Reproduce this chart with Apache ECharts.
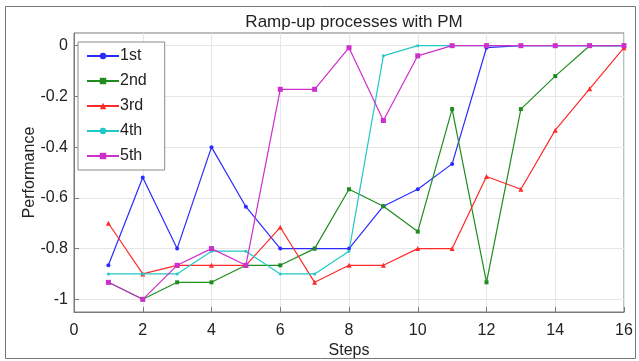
<!DOCTYPE html>
<html>
<head>
<meta charset="utf-8">
<script src="https://cdn.jsdelivr.net/npm/echarts@6/dist/echarts.min.js"></script>
<style>
  html, body { margin: 0; padding: 0; background: #fff; }
  #chart1 { width: 639px; height: 361px; }
</style>
</head>
<body>
<div id="chart1"></div>
<script>
var steps = [1, 2, 3, 4, 5, 6, 7, 8, 9, 10, 11, 12, 13, 14, 15, 16];

var first  = [-0.866, -0.52, -0.80, -0.40, -0.635, -0.80, -0.80, -0.80, -0.633, -0.566, -0.466, -0.008, 0, 0, 0, 0];
var second = [-0.933, -1.00, -0.933, -0.933, -0.866, -0.866, -0.80, -0.566, -0.633, -0.733, -0.25, -0.933, -0.25, -0.12, 0, 0];
var third  = [-0.70, -0.90, -0.866, -0.866, -0.866, -0.716, -0.933, -0.866, -0.866, -0.80, -0.80, -0.516, -0.566, -0.333, -0.17, -0.008];
var fourth = [-0.90, -0.90, -0.90, -0.81, -0.81, -0.90, -0.90, -0.81, -0.04, 0, 0, 0, 0, 0, 0, 0];
var fifth  = [-0.933, -1.00, -0.866, -0.80, -0.866, -0.172, -0.172, -0.008, -0.295, -0.04, 0, 0, 0, 0, 0, 0];

var names = ['1st', '2nd', '3rd', '4th', '5th'];
var colors = ['#2b2bff', '#1f8c1f', '#ff2a2a', '#22c8c8', '#cc2fcc'];
var symbols = ['circle', 'rect', 'triangle', 'circle', 'rect'];
var symbolSizes = [4, 4, 5, 3, 5];
var yTicks = [-1, -0.8, -0.6, -0.4, -0.2, 0];

var myChart = echarts.init(document.getElementById('chart1'));

function pairs(vals) {
    var out = [];
    for (var i = 0; i < steps.length; i++) {
        out.push([steps[i], vals[i]]);
    }
    return out;
}

var allData = [first, second, third, fourth, fifth];
var series = [];
for (var k = 0; k < allData.length; k++) {
    series.push({
        name: names[k],
        type: 'line',
        data: pairs(allData[k]),
        symbol: symbols[k],
        symbolSize: symbolSizes[k],
        showAllSymbol: true,
        clip: false,
        lineStyle: { color: colors[k], width: 1.2 },
        itemStyle: { color: colors[k] },
        emphasis: { disabled: true }
    });
}

var font = 'Liberation Sans, Arial, sans-serif';

var option = {
    animation: false,
    backgroundColor: '#fff',
    textStyle: { fontFamily: font },
    title: {
        text: 'Ramp-up processes with PM',
        left: 349,
        textAlign: 'center',
        top: 9,
        textStyle: { fontSize: 17, fontWeight: 'normal', color: '#222', fontFamily: font }
    },
    graphic: [{
        type: 'rect',
        shape: { x: 5.5, y: 6.5, width: 630, height: 352 },
        style: { fill: 'none', stroke: '#777', lineWidth: 1 },
        silent: true
    }],
    grid: {
        left: 74, right: 15, top: 33, bottom: 49,
        outerBoundsMode: 'none',
        show: true,
        borderColor: '#7a7a7a',
        borderWidth: 1,
        backgroundColor: '#fff'
    },
    legend: {
        orient: 'vertical',
        left: 78,
        top: 42,
        data: names,
        itemWidth: 32,
        itemHeight: 8,
        itemGap: 9,
        padding: [6, 18, 6, 8],
        backgroundColor: '#fff',
        borderColor: '#8a8a8a',
        borderWidth: 1,
        textStyle: { fontSize: 16, color: '#222', fontFamily: font, padding: [0, 0, 0, -4] }
    },
    xAxis: {
        type: 'value',
        min: 0,
        max: 16,
        interval: 2,
        name: 'Steps',
        nameLocation: 'middle',
        nameGap: 31,
        nameMoveOverlap: false,
        nameTextStyle: { fontSize: 16, color: '#222', fontFamily: font },
        axisLine: { show: true, onZero: false, lineStyle: { color: '#7a7a7a' } },
        axisTick: { show: true, inside: true, length: 5, lineStyle: { color: '#7a7a7a' } },
        axisLabel: { fontSize: 16, color: '#222', margin: 11, fontFamily: font },
        splitLine: { show: true, lineStyle: { color: '#e6e6e6' } }
    },
    yAxis: {
        type: 'value',
        min: -1.05,
        max: 0.05,
        name: 'Performance',
        nameLocation: 'middle',
        nameGap: 36,
        nameMoveOverlap: false,
        nameTextStyle: { fontSize: 16, color: '#222', fontFamily: font },
        axisLine: { show: true, onZero: false, lineStyle: { color: '#7a7a7a' } },
        axisTick: { show: true, inside: true, length: 5, customValues: yTicks, lineStyle: { color: '#7a7a7a' } },
        axisLabel: { fontSize: 16, color: '#222', margin: 6, customValues: yTicks, fontFamily: font },
        splitLine: { show: true, lineStyle: { color: '#e6e6e6' } }
    },
    series: series
};

myChart.setOption(option);
</script>
</body>
</html>
